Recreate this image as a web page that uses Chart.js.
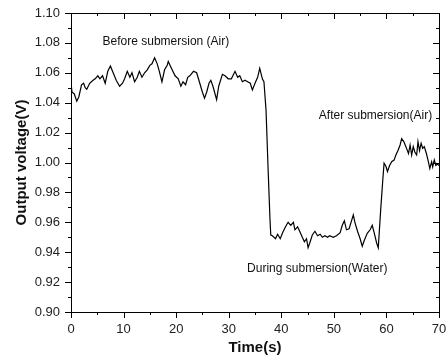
<!DOCTYPE html>
<html>
<head>
<meta charset="utf-8">
<script src="https://cdn.jsdelivr.net/npm/chart.js@4/dist/chart.umd.min.js"></script>
<style>
  html, body { margin: 0; padding: 0; background: #fff; }
  #wrap { width: 448px; height: 361px; }
</style>
</head>
<body>
<div id="wrap"><canvas id="voltChart" width="448" height="361"></canvas></div>
<script>
// ── Data ────────────────────────────────────────────────────

const times = [
  0.0, 0.2, 0.6, 1.1, 1.5, 2.0, 2.4, 2.7, 3.0, 3.55, 4.2, 4.6, 5.1, 5.5, 6.0, 6.5,
  7.0, 7.5, 7.9, 8.6, 9.25, 9.8, 10.2, 10.7, 11.2, 11.6, 12.1, 12.6, 13.0, 13.5,
  14.0, 14.5, 15.0, 15.4, 15.9, 16.4, 16.8, 17.3, 17.8, 18.3, 18.5, 19.1, 19.8,
  20.4, 20.9, 21.3, 21.8, 22.2, 22.6, 23.3, 23.9, 24.5, 25.0, 25.4, 25.8, 26.25,
  26.6, 27.0, 27.7, 28.1, 28.8, 29.3, 29.9, 30.5, 31.2, 31.7, 32.1, 32.6, 33.1,
  33.6, 34.1, 34.5, 35.0, 35.5, 35.9, 36.4, 36.7, 37.1, 37.5, 37.85, 38.0, 38.3,
  38.9, 39.3, 39.8, 40.25, 40.8, 41.3, 41.8, 42.3, 42.6, 43.1, 43.5, 44.0, 44.4,
  44.8, 45.1, 45.4, 45.9, 46.4, 46.9, 47.4, 47.8, 48.3, 48.8, 49.2, 49.9, 50.5,
  51.2, 51.6, 52.0, 52.4, 52.9, 53.4, 53.7, 54.0, 54.5, 55.0, 55.4, 55.8, 56.35,
  56.9, 57.3, 57.7, 58.15, 58.45, 58.9, 59.3, 59.55, 59.9, 60.2, 60.6, 61.0,
  61.45, 61.8, 62.2, 62.6, 62.9, 63.3, 63.7, 64.2, 64.5, 64.8, 65.1, 65.4, 65.75,
  66.0, 66.3, 66.6, 66.9, 67.2, 67.6, 67.9, 68.25, 68.6, 68.8, 69.1, 69.4, 69.7, 70.0
];

const voltages = [
  1.053, 1.047, 1.046, 1.041, 1.044, 1.052, 1.053, 1.050, 1.049, 1.053, 1.055, 1.056, 1.058, 1.056, 1.058, 1.053,
  1.061, 1.0645, 1.061, 1.055, 1.051, 1.053, 1.056, 1.061, 1.057, 1.060, 1.054, 1.057, 1.061, 1.057,
  1.060, 1.062, 1.065, 1.066, 1.070, 1.066, 1.061, 1.054, 1.062, 1.065, 1.0675, 1.063, 1.058,
  1.056, 1.051, 1.054, 1.052, 1.057, 1.058, 1.061, 1.060, 1.053, 1.047, 1.043, 1.047, 1.053,
  1.055, 1.051, 1.042, 1.051, 1.059, 1.058, 1.056, 1.056, 1.061, 1.057, 1.058, 1.054, 1.055,
  1.054, 1.053, 1.0485, 1.053, 1.057, 1.063, 1.056, 1.054, 1.035, 0.995, 0.962, 0.9515, 0.951,
  0.949, 0.952, 0.949, 0.953, 0.957, 0.960, 0.958, 0.960, 0.955, 0.957, 0.954, 0.950, 0.947,
  0.949, 0.943, 0.946, 0.9515, 0.954, 0.951, 0.952, 0.950, 0.951, 0.950, 0.951, 0.950, 0.951,
  0.953, 0.958, 0.961, 0.955, 0.9557, 0.9615, 0.965, 0.960, 0.954, 0.949, 0.944, 0.948, 0.9526,
  0.955, 0.958, 0.9526, 0.946, 0.943, 0.968, 0.988, 0.9995, 0.9975, 0.994, 0.998, 1.0005,
  1.0016, 1.005, 1.008, 1.0117, 1.016, 1.014, 1.0106, 1.006, 1.0117, 1.005, 1.0106, 1.007, 1.005,
  1.014, 1.008, 1.0128, 1.0095, 1.0106, 1.006, 1.0017, 0.996, 1.0005, 0.997, 1.0017, 0.998, 0.999, 0.998
];

const xTickLabels = [0, 10, 20, 30, 40, 50, 60, 70];
const yTickLabels = ['0.90', '0.92', '0.94', '0.96', '0.98', '1.00', '1.02', '1.04', '1.06', '1.08', '1.10'];

// phase labels: text, anchor time, anchor voltage, alignment
const phaseText  = ['Before submersion (Air)', 'After submersion(Air)', 'During submersion(Water)'];
const phaseTime  = [6.0, 68.7, 33.5];
const phaseVolt  = [1.0805, 1.0314, 0.9288];
const phaseAlign = ['left', 'right', 'left'];

// ── Frame with inner/outer tick marks (major + minor) ───────

const frameTicks = {
  id: 'frameTicks',
  afterDatasetsDraw(chart) {
    const { ctx, chartArea: a, scales: { x, y } } = chart;
    ctx.save();
    ctx.strokeStyle = '#000';
    ctx.lineWidth = 1;
    ctx.strokeRect(Math.round(a.left) + 0.5, Math.round(a.top) + 0.5,
                   Math.round(a.width), Math.round(a.height));
    ctx.beginPath();
    // x: every 5 s, labelled every 10 s
    for (let i = 0; i <= 14; i++) {
      const px  = Math.round(x.getPixelForValue(i * 5)) + 0.5;
      const len = i % 2 === 0 ? 6 : 3;
      ctx.moveTo(px, a.bottom); ctx.lineTo(px, a.bottom + len);   // outside
      ctx.moveTo(px, a.top);    ctx.lineTo(px, a.top + len);      // inside
    }
    // y: every 0.01 V, labelled every 0.02 V
    for (let i = 0; i <= 20; i++) {
      const py  = Math.round(y.getPixelForValue(0.90 + i * 0.01)) + 0.5;
      const len = i % 2 === 0 ? 6 : 3;
      ctx.moveTo(a.left, py);  ctx.lineTo(a.left - len, py);      // outside
      ctx.moveTo(a.right, py); ctx.lineTo(a.right - len, py);     // inside
    }
    ctx.stroke();

    // phase annotations
    ctx.fillStyle = '#111';
    ctx.font = '12px "Liberation Sans", Arial, sans-serif';
    ctx.textBaseline = 'middle';
    phaseText.forEach((txt, i) => {
      ctx.textAlign = phaseAlign[i];
      ctx.fillText(txt, x.getPixelForValue(phaseTime[i]), y.getPixelForValue(phaseVolt[i]));
    });
    ctx.restore();
  }
};

// ── Chart ───────────────────────────────────────────────────

const tickFont  = { family: '"Liberation Sans", Arial, sans-serif', size: 13 };
const titleFont = { family: '"Liberation Sans", Arial, sans-serif', size: 15, weight: 'bold' };

new Chart(document.getElementById('voltChart'), {
  type: 'line',
  data: {
    datasets: [{
      label: 'Output voltage',
      data: times.map((t, i) => ({ x: t, y: voltages[i] })),
      borderColor: '#000',
      borderWidth: 1.2,
      pointRadius: 0,
      tension: 0,
      fill: false
    }]
  },
  options: {
    responsive: false,
    animation: false,
    devicePixelRatio: 1,
    layout: { padding: { left: 0, right: 9, top: 13, bottom: 0 } },
    plugins: { legend: { display: false }, tooltip: { enabled: false } },
    scales: {
      x: {
        type: 'linear',
        min: 0, max: 70,
        afterFit: s => { s.height = 49; s.paddingLeft = 0; s.paddingRight = 0; },
        afterBuildTicks: s => { s.ticks = xTickLabels.map(v => ({ value: v })); },
        grid: { display: false, drawTicks: false },
        border: { display: false },
        ticks: { color: '#222', font: tickFont, padding: 10, maxRotation: 0 },
        title: { display: true, text: 'Time(s)', color: '#111', font: titleFont, padding: { top: 0, bottom: 4 } }
      },
      y: {
        type: 'linear',
        min: 0.90, max: 1.10,
        afterFit: s => { s.width = 71; s.paddingTop = 0; s.paddingBottom = 0; },
        afterBuildTicks: s => { s.ticks = yTickLabels.map(v => ({ value: parseFloat(v) })); },
        grid: { display: false, drawTicks: false },
        border: { display: false },
        ticks: {
          color: '#222', font: tickFont, padding: 11,
          callback: v => v.toFixed(2)
        },
        title: { display: true, text: 'Output voltage(V)', color: '#111', font: titleFont, padding: { top: 13, bottom: 0 } }
      }
    }
  },
  plugins: [frameTicks]
});
</script>
</body>
</html>
